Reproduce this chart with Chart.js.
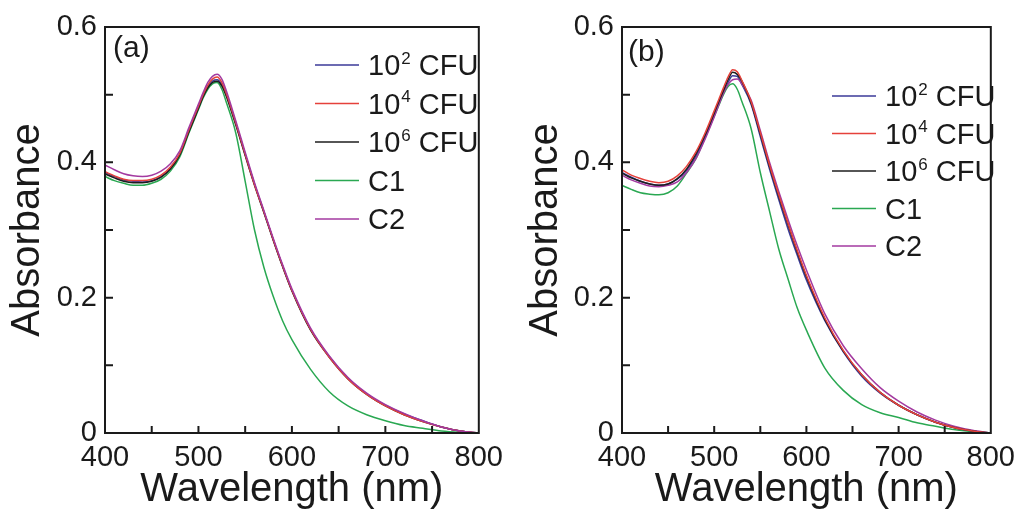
<!DOCTYPE html>
<html>
<head>
<meta charset="utf-8">
<script src="https://cdn.jsdelivr.net/npm/chart.js@4/dist/chart.umd.min.js"></script>
<style>
  body { margin: 0; background: #fff; }
  #wrap { position: relative; width: 1023px; height: 516px; }
  canvas { position: absolute; top: 0; }
</style>
</head>
<body>
<div id="wrap">
  <canvas id="chartA" width="511" height="516" style="left:0"></canvas>
  <canvas id="chartB" width="512" height="516" style="left:511px"></canvas>
</div>
<script>
// wavelength grid (nm) shared by every trace
const wavelengths = [400, 410, 420, 430, 440, 450, 460, 470, 480, 490, 500, 505, 510, 515, 520, 525, 530,
    540, 550, 560, 570, 580, 590, 600, 620, 640, 660, 680, 700, 720, 740, 760, 780, 800];

const seriesNames = ['10^2 CFU', '10^4 CFU', '10^6 CFU', 'C1', 'C2'];
const seriesColors = ['#3b3a98', '#e5413b', '#1e1e1e', '#2aa852', '#a33aa0'];

const xTicks = [400, 500, 600, 700, 800];
const yTicks = [0, 0.2, 0.4, 0.6];

// panel (a)
const a102 = [.385, .379, .374, .372, .371, .373, .379, .391, .412, .447, .481, .498, .512, .520, .522, .515, .499,
    .457, .412, .368, .327, .286, .247, .211, .153, .113, .081, .058, .041, .028, .018, .009, .003, .000];
const a104 = [.386, .380, .375, .373, .373, .375, .381, .393, .413, .449, .483, .500, .514, .523, .526, .518, .501,
    .458, .412, .367, .327, .286, .247, .211, .153, .112, .080, .057, .040, .027, .017, .009, .003, .000];
const a106 = [.383, .377, .372, .370, .370, .372, .378, .390, .411, .446, .480, .497, .510, .518, .520, .513, .497,
    .455, .410, .366, .326, .285, .246, .210, .152, .112, .080, .057, .040, .027, .017, .009, .003, .000];
const aC1 = [.379, .373, .369, .366, .366, .369, .375, .387, .408, .444, .478, .495, .508, .516, .518, .508, .488,
    .443, .372, .300, .245, .202, .166, .138, .094, .061, .040, .027, .018, .011, .007, .003, .001, .000];
const aC2 = [.396, .389, .383, .380, .379, .381, .387, .398, .417, .452, .486, .503, .518, .527, .530, .523, .505,
    .461, .415, .370, .329, .288, .249, .213, .155, .114, .082, .059, .042, .029, .018, .009, .003, .000];

// panel (b)
const b102 = [.385, .378, .372, .368, .366, .368, .375, .388, .409, .437, .470, .487, .503, .518, .528, .527, .515,
    .486, .438, .390, .345, .302, .263, .226, .166, .120, .084, .059, .041, .027, .016, .008, .003, .000];
const b104 = [.389, .381, .376, .372, .370, .372, .380, .394, .415, .443, .476, .493, .510, .526, .537, .534, .521,
    .490, .444, .396, .352, .310, .270, .233, .170, .122, .086, .060, .041, .027, .016, .008, .003, .000];
const b106 = [.384, .377, .372, .368, .366, .368, .376, .390, .412, .440, .473, .490, .506, .522, .533, .530, .520,
    .488, .442, .394, .350, .308, .268, .231, .168, .121, .086, .060, .041, .027, .016, .008, .003, .000];
const bC1 = [.366, .360, .355, .353, .352, .355, .365, .384, .405, .436, .468, .484, .500, .512, .516, .508, .490,
    .450, .385, .328, .272, .228, .185, .152, .096, .063, .042, .030, .023, .015, .010, .005, .002, .000];
const bC2 = [.381, .374, .369, .365, .364, .366, .371, .385, .405, .434, .467, .485, .502, .515, .522, .523, .516,
    .492, .447, .400, .357, .316, .277, .241, .176, .129, .095, .067, .047, .031, .019, .010, .004, .000];

const ink = '#1a1a1a';
const fontFamily = '"Liberation Sans", Arial, sans-serif';

function toPoints(values) {
    return values.map((v, i) => ({ x: wavelengths[i], y: v }));
}

// draws the frame, inward ticks, panel letter and legend
const decor = {
    id: 'decor',
    afterDraw(chart, args, opts) {
        const ctx = chart.ctx;
        const area = chart.chartArea;
        const xs = chart.scales.x;
        const ys = chart.scales.y;
        ctx.save();
        ctx.strokeStyle = ink;
        ctx.lineWidth = 2;
        ctx.strokeRect(area.left, area.top, area.right - area.left, area.bottom - area.top);
        ctx.beginPath();
        for (let v = 450; v < 800; v += 50) {
            const px = xs.getPixelForValue(v);
            ctx.moveTo(px, area.bottom);
            ctx.lineTo(px, area.bottom - 7);
        }
        for (let k = 1; k < 6; k++) {
            const py = ys.getPixelForValue(k / 10);
            ctx.moveTo(area.left, py);
            ctx.lineTo(area.left + 8, py);
        }
        ctx.stroke();

        ctx.fillStyle = ink;
        ctx.textBaseline = 'middle';
        ctx.font = '30px ' + fontFamily;
        ctx.fillText(opts.letter, opts.letterX, opts.letterY);

        // legend
        ctx.lineWidth = 1.5;
        seriesNames.forEach((name, i) => {
            const y = opts.legendY + i * opts.legendGap;
            ctx.strokeStyle = seriesColors[i];
            ctx.beginPath();
            ctx.moveTo(opts.legendX, y);
            ctx.lineTo(opts.legendX + 44, y);
            ctx.stroke();
            let x = opts.legendX + 53;
            const parts = name.split('^');
            ctx.font = '29px ' + fontFamily;
            ctx.fillText(parts[0], x, y + 2);
            x += ctx.measureText(parts[0]).width;
            if (parts.length > 1) {
                const sup = parts[1].slice(0, 1);
                const rest = parts[1].slice(1);
                ctx.font = '17px ' + fontFamily;
                ctx.fillText(sup, x + 1, y - 6);
                x += ctx.measureText(sup).width + 1;
                ctx.font = '29px ' + fontFamily;
                ctx.fillText(rest, x, y + 2);
            }
        });
        ctx.restore();
    }
};

function makeChart(id, series, yWidth, padRight, titleLeftPad, decorOpts, orders) {
    return new Chart(document.getElementById(id), {
        type: 'line',
        data: {
            datasets: series.map((values, i) => ({
                label: seriesNames[i].replace('^', ''),
                data: toPoints(values),
                borderColor: seriesColors[i],
                borderWidth: 1.5,
                pointRadius: 0,
                fill: false,
                cubicInterpolationMode: 'monotone',
                order: orders[i]
            }))
        },
        options: {
            responsive: false,
            animation: false,
            layout: { padding: { left: 0, right: padRight, top: 27, bottom: 0 } },
            plugins: {
                legend: { display: false },
                tooltip: { enabled: false },
                decor: decorOpts
            },
            scales: {
                x: {
                    type: 'linear',
                    min: 400,
                    max: 800,
                    grid: { display: false, drawTicks: false },
                    border: { display: false },
                    afterFit: (scale) => { scale.height = 83; },
                    afterBuildTicks: (scale) => { scale.ticks = xTicks.map(v => ({ value: v })); },
                    ticks: {
                        autoSkip: false,
                        maxRotation: 0,
                        padding: 8,
                        color: ink,
                        font: { family: fontFamily, size: 29 }
                    },
                    title: {
                        display: true,
                        text: 'Wavelength (nm)',
                        color: ink,
                        padding: { top: 0, bottom: 2 },
                        font: { family: fontFamily, size: 40 }
                    }
                },
                y: {
                    min: 0,
                    max: 0.6,
                    grid: { display: false, drawTicks: false },
                    border: { display: false },
                    afterFit: (scale) => { scale.width = yWidth; },
                    afterBuildTicks: (scale) => { scale.ticks = yTicks.map(v => ({ value: v })); },
                    ticks: {
                        padding: 8,
                        color: ink,
                        font: { family: fontFamily, size: 29 },
                        callback: (v) => v === 0 ? '0' : v.toFixed(1)
                    },
                    title: {
                        display: true,
                        text: 'Absorbance',
                        color: ink,
                        padding: { top: titleLeftPad, bottom: 0 },
                        font: { family: fontFamily, size: 40 }
                    }
                }
            }
        },
        plugins: [decor]
    });
}

makeChart('chartA', [a102, a104, a106, aC1, aC2], 105, 22, 3.5,
    { letter: '(a)', letterX: 113, letterY: 49, legendX: 315, legendY: 65, legendGap: 38.5 },
    [4, 2, 3, 5, 1]);

makeChart('chartB', [b102, b104, b106, bC1, bC2], 111, 18, 11,
    { letter: '(b)', letterX: 117, letterY: 53, legendX: 321, legendY: 96, legendGap: 37.5 },
    [4, 1, 2, 5, 3]);
</script>
</body>
</html>
